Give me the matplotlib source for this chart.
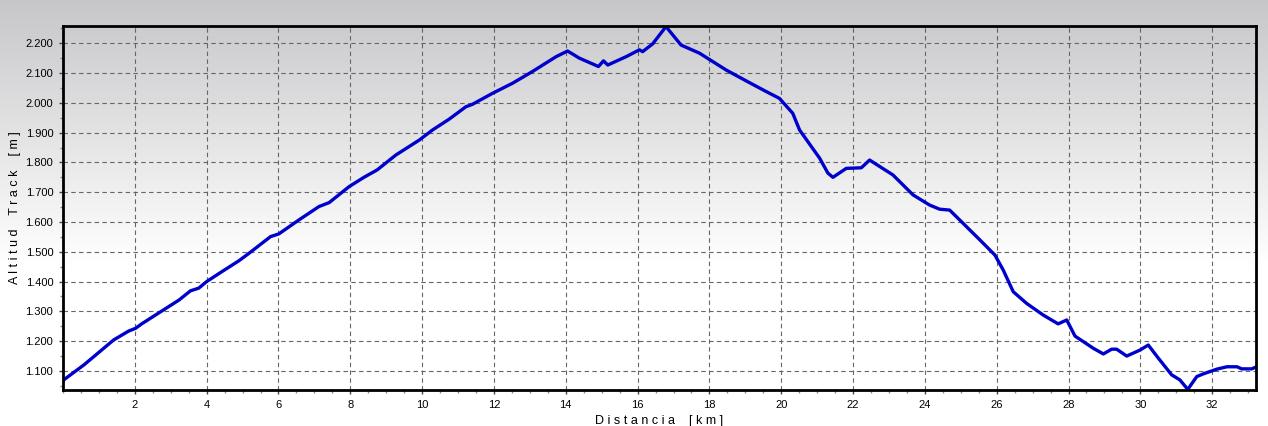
import matplotlib
matplotlib.use("Agg")
import matplotlib.pyplot as plt
import numpy as np
from matplotlib.ticker import FuncFormatter, MultipleLocator

# track profile (km, m)
dist = [0.00, 0.02, 0.58, 1.41, 1.83, 2.02, 2.19, 2.67, 3.23, 3.55, 3.78, 4.00,
        4.42, 4.90, 5.18, 5.78, 6.01, 6.57, 7.13, 7.41, 7.97, 8.38, 8.75, 9.27,
        9.92, 10.29, 10.75, 11.22, 11.40, 11.96, 12.52, 13.07, 13.73, 14.05,
        14.38, 14.91, 15.05, 15.17, 15.68, 16.05, 16.14, 16.42, 16.79, 17.21,
        17.72, 18.47, 19.02, 19.58, 19.95, 20.32, 20.51, 20.74, 21.07, 21.30,
        21.44, 21.81, 22.23, 22.46, 23.11, 23.67, 24.13, 24.41, 24.69, 25.06,
        25.53, 25.95, 26.18, 26.46, 26.83, 27.29, 27.71, 27.95, 28.18, 28.69,
        28.97, 29.20, 29.34, 29.62, 29.99, 30.22, 30.50, 30.87, 31.10, 31.32,
        31.57, 31.75, 32.13, 32.41, 32.69, 32.82, 33.10, 33.24]
alt = [1065, 1070, 1120, 1204, 1234, 1243, 1258, 1295, 1338, 1369, 1378, 1400,
       1433, 1470, 1495, 1551, 1560, 1607, 1652, 1665, 1719, 1750, 1775, 1825,
       1875, 1909, 1945, 1987, 1995, 2032, 2066, 2105, 2155, 2174,
       2150, 2122, 2141, 2127, 2155, 2178, 2172, 2198, 2256, 2194,
       2167, 2110, 2074, 2038, 2015, 1965, 1909, 1870, 1814, 1764,
       1750, 1780, 1782, 1808, 1758, 1691, 1657, 1643, 1640, 1596,
       1540, 1489, 1439, 1366, 1327, 1288, 1258, 1271, 1217, 1176,
       1157, 1173, 1173, 1150, 1170, 1187, 1143, 1087, 1070, 1038,
       1081, 1090, 1106, 1114, 1114, 1107, 1107, 1114]

y_ticks = list(range(1100, 2201, 100))
x_ticks = list(range(2, 33, 2))

plt.rcParams['font.family'] = ['Liberation Sans', 'DejaVu Sans']

fig = plt.figure(figsize=(12.68, 4.26), dpi=100)

# gradient background over the whole figure
bg = fig.add_axes([0, 0, 1, 1])
grad = np.linspace(0, 1, 256)
shade = np.clip(grad / 0.62, 0, 1)
top = np.array([0.78, 0.78, 0.79])
img = top[None, :] + (1 - top[None, :]) * shade[:, None]
bg.imshow(img[:, None, :], aspect='auto', extent=[0, 1, 0, 1], origin='upper')
bg.axis('off')

ax = fig.add_axes([63 / 1268, 36 / 426, 1193 / 1268, 364 / 426])
ax.patch.set_alpha(0)
ax.plot(dist, alt, color='#0000cc', lw=2.4, solid_joinstyle='round')

ax.set_xlim(0, 33.22)
ax.set_ylim(1036, 2258)
ax.set_xticks(x_ticks)
ax.set_yticks(y_ticks)
ax.xaxis.set_minor_locator(MultipleLocator(0.5))
ax.yaxis.set_minor_locator(MultipleLocator(50))
ax.yaxis.set_major_formatter(FuncFormatter(lambda v, p: f"{int(v):,}".replace(",", ".")))
ax.tick_params(labelsize=8, length=3, width=1, color='#444444', pad=4)
ax.tick_params(which='minor', length=2, width=1, color='#888888')
ax.grid(True, color='#666666', ls=(0, (4, 3)), lw=0.8)
for s in ax.spines.values():
    s.set_linewidth(2)
    s.set_color('black')

ax.set_xlabel("D i s t a n c i a    [ k m ]", fontsize=9)
ax.xaxis.set_label_coords(0.5, -25 / 364)
ax.set_ylabel("A l t i t u d    T r a c k    [ m ]", fontsize=9)
ax.yaxis.set_label_coords(-42 / 1193, 0.5)

fig.savefig('out.png', dpi=100)
